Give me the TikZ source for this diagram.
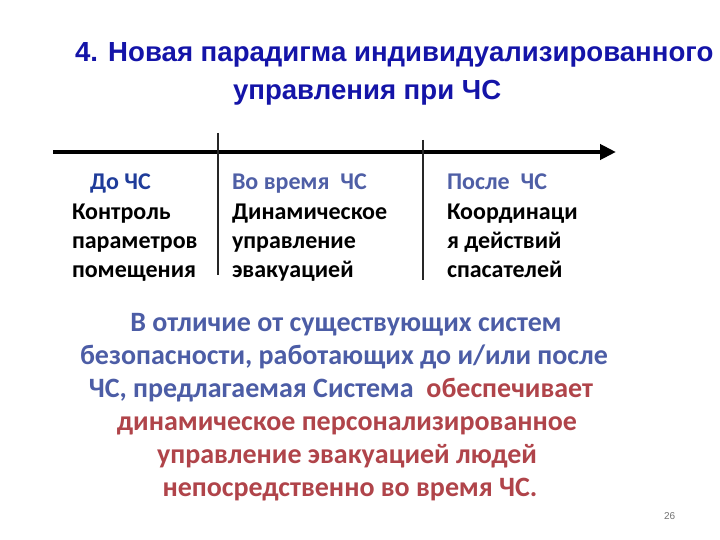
\documentclass[tikz,border=0pt]{standalone}
\usepackage{fontspec}
\usetikzlibrary{arrows.meta}
\newfontfamily\titlefnt{Liberation Sans}
\newfontfamily\calfnt{Carlito}
\definecolor{titleblue}{HTML}{1414A8}
\definecolor{darkblue}{HTML}{1F3C9A}
\definecolor{slateblue}{HTML}{4F5FA6}
\definecolor{parblue}{HTML}{4C5DA6}
\definecolor{parred}{HTML}{B0444A}
\begin{document}
\begin{tikzpicture}[x=1pt,y=-1pt,
  every node/.style={inner sep=0pt,outer sep=0pt},
  titletext/.style={anchor=base west,font=\titlefnt\bfseries\fontsize{27.6}{32}\selectfont,text=titleblue},
  coltext/.style={anchor=base west,align=left,font=\calfnt\bfseries\fontsize{24}{29}\selectfont},
  partext/.style={anchor=base,font=\calfnt\bfseries\fontsize{28}{33}\selectfont},
  divider/.style={line width=1.3pt,black!85}]
\useasboundingbox (0,0) rectangle (720,540);
\fill[white] (0,0) rectangle (720,540);
% title
\node[titletext] (t1) at (75,62) {4. Новая парадигма индивидуализированного};
\node[titletext] (t2) at (233,100) {управления при ЧС};
% timeline
\coordinate (ta) at (53,152);
\coordinate (tb) at (616,152);
\draw[line width=4pt,-{Triangle[length=16pt,width=15pt]}] (ta) -- (tb);
\coordinate (d1a) at (218,133);
\coordinate (d1b) at (218,275);
\coordinate (d2a) at (423,140);
\coordinate (d2b) at (423,280);
\draw[divider] (d1a) -- (d1b);
\draw[divider] (d2a) -- (d2b);
% columns (base anchor = baseline of the last line)
\node[coltext,text=darkblue] (h1) at (90,190) {До ЧС};
\node[coltext] (c1) at (72,277) {Контроль\\параметров\\помещения};
\node[coltext,text=slateblue] (h2) at (232,190) {Во время\ \ ЧС};
\node[coltext] (c2) at (232,277) {Динамическое\\управление\\эвакуацией};
\node[coltext,text=slateblue] (h3) at (447,190) {После\ \ ЧС};
\node[coltext] (c3) at (447,277) {Координаци\\я действий\\спасателей};
% paragraph
\node[partext,text=parblue] (p1) at (346,331) {В отличие от существующих систем};
\node[partext,text=parblue] (p2) at (344,364) {безопасности, работающих до и/или после};
\node[partext] (p3) at (341,397) {\textcolor{parblue}{ЧС, предлагаемая Система}\ \ \textcolor{parred}{обеспечивает}};
\node[partext,text=parred] (p4) at (347,430) {динамическое персонализированное};
\node[partext,text=parred] (p5) at (347,463) {управление эвакуацией людей};
\node[partext,text=parred] (p6) at (350,496) {непосредственно во время ЧС.};
% page number
\node[anchor=base west,font=\titlefnt\fontsize{10}{12}\selectfont,text=black!55] (pg) at (664,519) {26};
\end{tikzpicture}
\end{document}
